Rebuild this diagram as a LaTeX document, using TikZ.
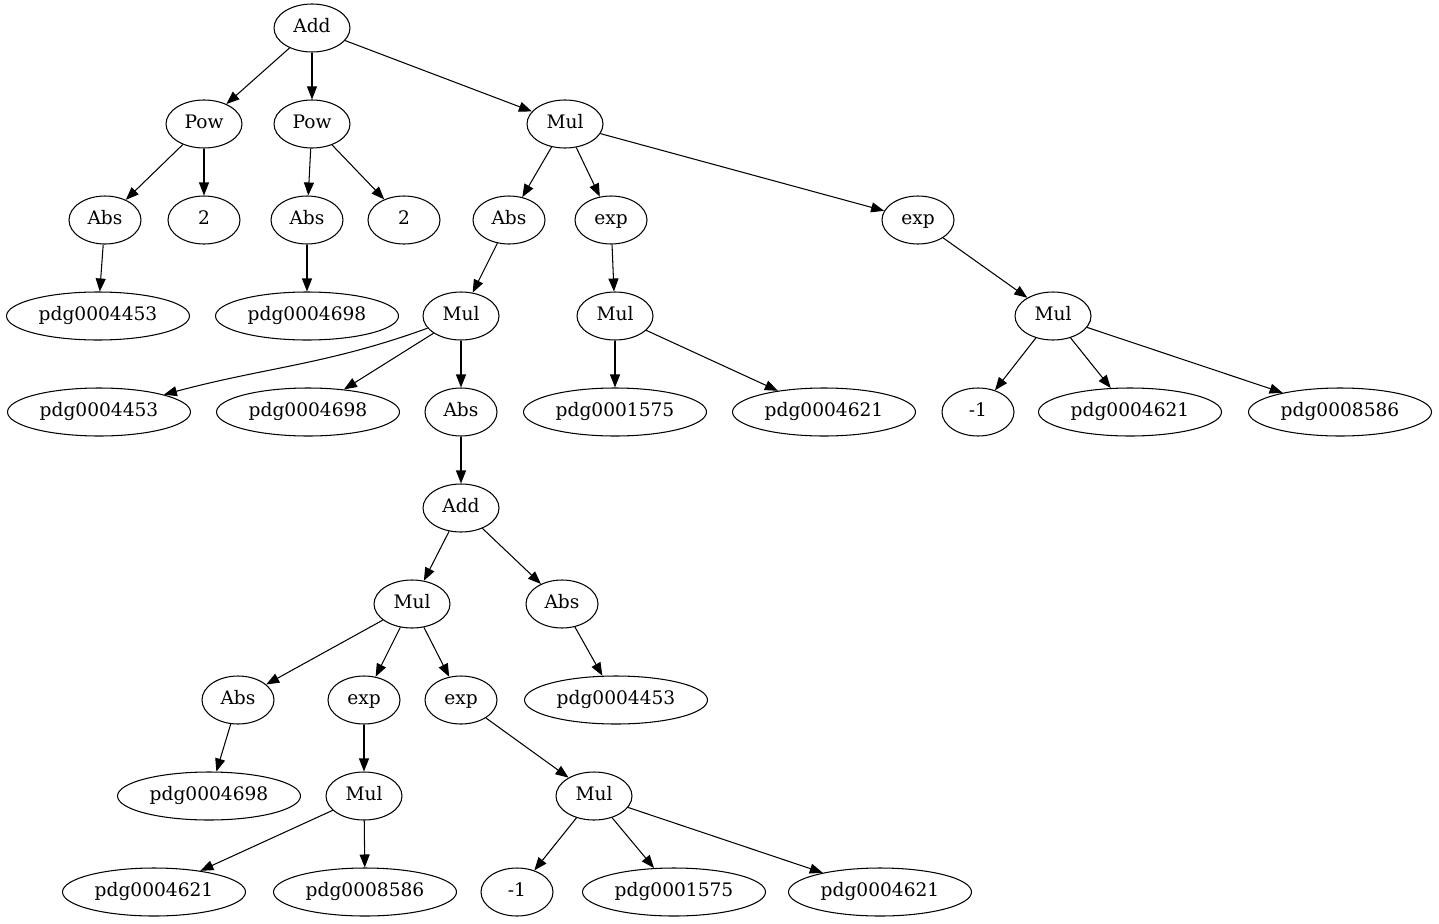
\documentclass[tikz,border=0pt]{standalone}
\usepackage{fontspec}
\setmainfont{DejaVu Serif}
\usetikzlibrary{shapes.geometric,arrows.meta}
\begin{document}
\begin{tikzpicture}[x=1pt,y=-1pt,
  base/.style={draw,ellipse,line width=1.05pt,inner sep=0pt,minimum height=48pt,text height=13.5pt,text depth=4pt,font=\fontsize{18.6}{22}\selectfont},
  sn/.style={base,minimum width=72pt},
  mn/.style={base,minimum width=76pt},
  wn/.style={base,minimum width=183pt},
  edge/.style={line width=1.05pt,-{Triangle[length=13pt,width=10pt]}}]
\useasboundingbox (0,0) rectangle (1439,923);
\node[mn] (a0) at (312,28) {Add};
\node[mn] (p1) at (204,124) {Pow};
\node[mn] (p2) at (312,124) {Pow};
\node[mn] (m3) at (565,124) {Mul};
\node[sn] (a4) at (105,220) {Abs};
\node[sn] (t5) at (204,220) {2};
\node[sn] (a6) at (307,220) {Abs};
\node[sn] (t7) at (404,220) {2};
\node[sn] (a8) at (509,220) {Abs};
\node[sn] (e9) at (611,220) {exp};
\node[sn] (e10) at (918,220) {exp};
\node[wn] (v11) at (98,316) {pdg0004453};
\node[wn] (v12) at (307,316) {pdg0004698};
\node[mn] (m13) at (461,316) {Mul};
\node[mn] (m14) at (615,316) {Mul};
\node[mn] (m15) at (1053,316) {Mul};
\node[wn] (v16) at (99,412) {pdg0004453};
\node[wn] (v17) at (308,412) {pdg0004698};
\node[sn] (a18) at (461,412) {Abs};
\node[wn] (v19) at (615,412) {pdg0001575};
\node[wn] (v20) at (824,412) {pdg0004621};
\node[sn] (n21) at (978,412) {-1};
\node[wn] (v22) at (1130,412) {pdg0004621};
\node[wn] (v23) at (1340,412) {pdg0008586};
\node[mn] (d24) at (461,508) {Add};
\node[mn] (m25) at (412,604) {Mul};
\node[sn] (a26) at (562,604) {Abs};
\node[sn] (a27) at (238,700) {Abs};
\node[sn] (e28) at (364,700) {exp};
\node[sn] (e29) at (461,700) {exp};
\node[wn] (v30) at (616,700) {pdg0004453};
\node[wn] (v31) at (209,796) {pdg0004698};
\node[mn] (m32) at (364,796) {Mul};
\node[mn] (m33) at (594,796) {Mul};
\node[wn] (v34) at (154,892) {pdg0004621};
\node[wn] (v35) at (365,892) {pdg0008586};
\node[sn] (n36) at (517,892) {-1};
\node[wn] (v37) at (674,892) {pdg0001575};
\node[wn] (v38) at (880,892) {pdg0004621};
\foreach \s/\t in {a0/p1,a0/p2,a0/m3,p1/a4,p1/t5,p2/a6,p2/t7,m3/a8,m3/e9,m3/e10,
  a4/v11,a6/v12,a8/m13,e9/m14,e10/m15,m13/v17,m13/a18,m14/v19,m14/v20,
  m15/n21,m15/v22,m15/v23,a18/d24,d24/m25,d24/a26,m25/a27,m25/e28,m25/e29,a26/v30,
  a27/v31,e28/m32,e29/m33,m32/v34,m32/v35,m33/n36,m33/v37,m33/v38}
  \draw[edge] (\s) -- (\t);
\draw[edge] (m13) to[out=200,in=15] (v16);
\end{tikzpicture}
\end{document}
